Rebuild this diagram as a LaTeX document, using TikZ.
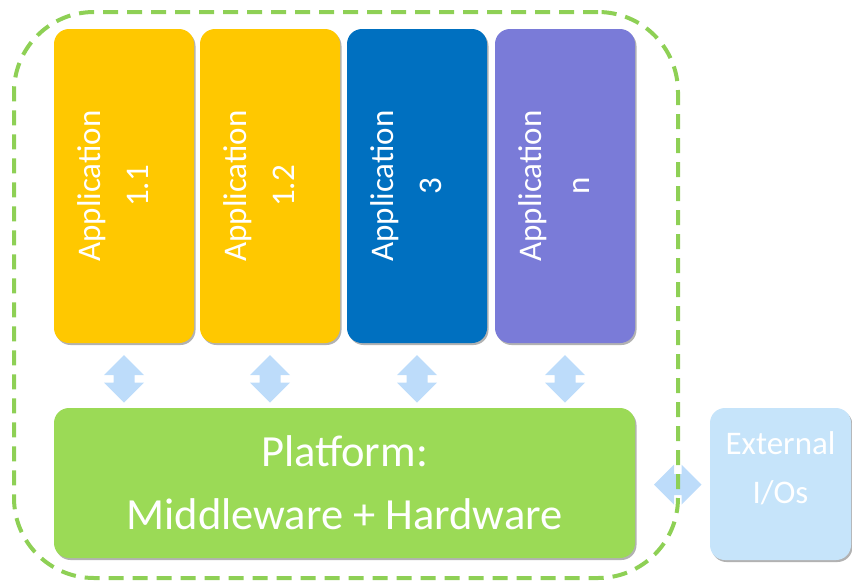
\documentclass[tikz,border=0pt]{standalone}
\usepackage{fontspec}
\setmainfont{Carlito}
\usetikzlibrary{shadows,calc}
\definecolor{appyellow}{HTML}{FFC800}
\definecolor{appblue}{HTML}{0070C0}
\definecolor{apppurple}{HTML}{7A7BD8}
\definecolor{platgreen}{HTML}{9BDA56}
\definecolor{extblue}{HTML}{C6E4FA}
\definecolor{arrowblue}{HTML}{BDDCFA}
\definecolor{dashgreen}{HTML}{8ED055}
\newcommand{\apptext}[1]{\rotatebox{90}{\raisebox{9pt}[\height][\depth]{\begin{tabular}{c}Application\\#1\end{tabular}}}}
\begin{document}
\begin{tikzpicture}[x=1pt,y=-1pt,
  box/.style={rounded corners=15pt, text=white, align=center, inner sep=0pt,
    drop shadow={shadow xshift=1.5pt, shadow yshift=-2pt, opacity=0.3, fill=black}},
  appbox/.style={box, minimum width=140pt, minimum height=314pt, font=\fontsize{33}{48}\selectfont},
  vdbl/.pic={\fill[arrowblue] (0,-23.5) -- (20,-3.5) -- (10.5,-3.5) -- (10.5,4) -- (20,4) -- (0,24) -- (-20,4) -- (-10.5,4) -- (-10.5,-3.5) -- (-20,-3.5) -- cycle;}
]
\useasboundingbox (0,0) rectangle (852,582);
\node[appbox, fill=appyellow] (a1) at (124,186) {\apptext{1.1}};
\node[appbox, fill=appyellow] (a2) at (270,186) {\apptext{1.2}};
\node[appbox, fill=appblue] (a3) at (417,186) {\apptext{3}};
\node[appbox, fill=apppurple] (a4) at (565,186) {\apptext{n}};
\node[box, fill=platgreen, minimum width=581pt, minimum height=150pt, font=\fontsize{44.5}{63}\selectfont] (plat) at (344.5,483) {Platform:\\Middleware + Hardware};
\node[box, fill=extblue, minimum width=141pt, minimum height=152pt, font=\fontsize{33}{49}\selectfont] (ext) at (780.5,484) {\raisebox{15pt}[\height][\depth]{\begin{tabular}{c}External\\I/Os\end{tabular}}};
\foreach \n in {a1,a2,a3,a4}{
  \pic at ($(\n.south)!0.5!(\n.south|-plat.north)+(0,3)$) {vdbl};
}
\pic[rotate=90] at ($(plat.east)!0.5!(ext.west)+(5,1)$) {vdbl};
\node[draw=dashgreen, line width=4pt, dash pattern=on 15pt off 9pt, rounded corners=80pt,
  minimum width=664pt, minimum height=566pt, inner sep=0pt] (sys) at (346,295) {};
\end{tikzpicture}
\end{document}
